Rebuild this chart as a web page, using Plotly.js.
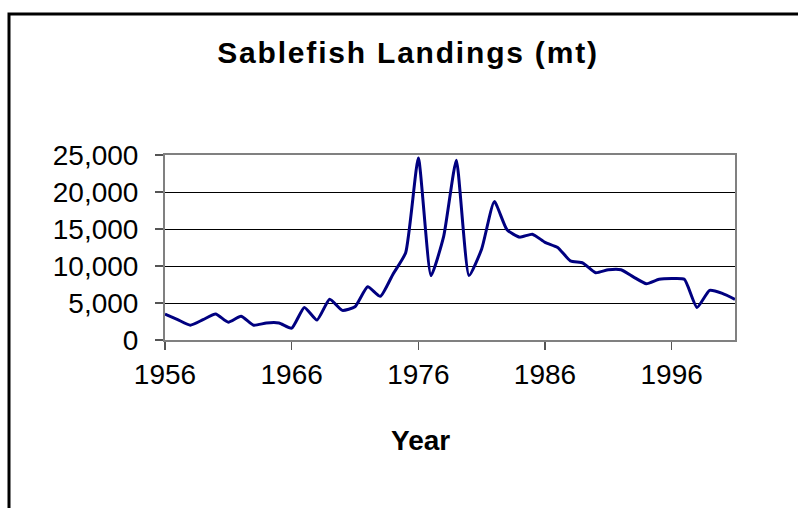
<!DOCTYPE html>
<html>
<head>
<meta charset="utf-8">
<script src="https://cdn.plot.ly/plotly-3.0.1.min.js"></script>
<style>
html,body{margin:0;padding:0;background:#fff;}
#chart{width:798px;height:508px;}
#chart .gtitle{letter-spacing:1.8px;}
</style>
</head>
<body>
<div id="chart"></div>
<script>
const years = [1956,1957,1958,1959,1960,1961,1962,1963,1964,1965,
               1966,1967,1968,1969,1970,1971,1972,1973,1974,1975,
               1976,1977,1978,1979,1980,1981,1982,1983,1984,1985,
               1986,1987,1988,1989,1990,1991,1992,1993,1994,1995,
               1996,1997,1998,1999,2000,2001];
const landings = [3500,2750,2000,2750,3500,2400,3200,2000,2300,2300,
                  1600,4400,2700,5500,4000,4500,7200,5900,8900,11800,
                  24600,8700,14000,24300,8700,12300,18700,14900,13900,14300,
                  13200,12500,10700,10400,9100,9500,9500,8500,7600,8200,
                  8300,8200,4400,6700,6300,5500];
const xTicks = [1956,1966,1976,1986,1996];
const yTicks = [0,5000,10000,15000,20000,25000];
const yTickText = ["0","5,000","10,000","15,000","20,000","25,000"];

const FONT = "Liberation Sans, Arial, Helvetica, sans-serif";

const trace = {
  x: years, y: landings, type: "scatter", mode: "lines",
  line: {color: "#000080", width: 3, shape: "spline", smoothing: 0.5},
  hoverinfo: "x+y", showlegend: false
};

const layout = {
  width: 798, height: 508,
  margin: {l: 165, r: 63, t: 155, b: 168, pad: 0},
  paper_bgcolor: "#ffffff", plot_bgcolor: "#ffffff",
  font: {family: FONT, color: "#000000", size: 28},
  title: {
    text: "<b>Sablefish Landings (mt)</b>",
    font: {family: FONT, size: 30, color: "#000000"},
    xref: "container", x: 0.5113, xanchor: "center",
    yref: "container", y: 0.897, yanchor: "middle"
  },
  xaxis: {
    type: "linear", range: [1956, 2001],
    tickmode: "array", tickvals: xTicks, ticktext: xTicks.map(String),
    ticks: "outside", ticklen: 8, tickwidth: 1.5, tickcolor: "#555555",
    showgrid: false, zeroline: false,
    showline: true, linecolor: "#808080", linewidth: 2, mirror: true,
    tickfont: {family: FONT, size: 28, color: "#000000"},
    ticklabelstandoff: 0
  },
  yaxis: {
    range: [0, 25000],
    tickmode: "array", tickvals: yTicks, ticktext: yTickText,
    ticks: "outside", ticklen: 8, tickwidth: 1.5, tickcolor: "#555555",
    showgrid: true, gridcolor: "#000000", gridwidth: 1,
    zeroline: false,
    showline: true, linecolor: "#808080", linewidth: 2, mirror: true,
    tickfont: {family: FONT, size: 28, color: "#000000"},
    ticklabelstandoff: 11
  },
  annotations: [{
    text: "<b>Year</b>", xref: "paper", yref: "paper",
    x: 0.4474, y: -0.545, xanchor: "center", yanchor: "middle",
    showarrow: false, font: {family: FONT, size: 28, color: "#000000"}
  }],
  shapes: [{
    type: "rect", xref: "paper", yref: "paper",
    x0: (9 - 165) / 570, x1: (830 - 165) / 570,
    y0: (340 - 540) / 185, y1: (340 - 14) / 185,
    line: {color: "#000000", width: 3}, fillcolor: "rgba(0,0,0,0)", layer: "below"
  }]
};

Plotly.newPlot("chart", [trace], layout, {staticPlot: true, displayModeBar: false});
</script>
</body>
</html>
